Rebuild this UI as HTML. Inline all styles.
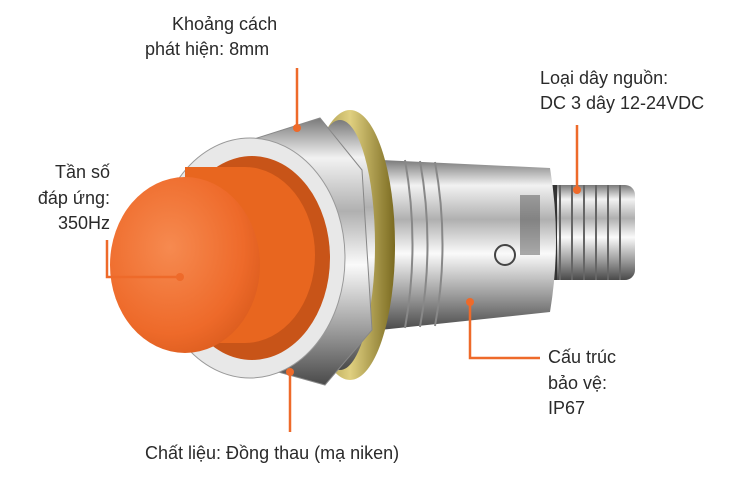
<!DOCTYPE html>
<html><head><meta charset="utf-8"><style>
html,body{margin:0;padding:0;background:#fff;}
#c{position:relative;width:750px;height:500px;overflow:hidden;background:#fff;font-family:"Liberation Sans","DejaVu Sans",sans-serif;color:#2a2a2a;font-size:18px;line-height:25.5px;}
.t{position:absolute;white-space:nowrap;}
</style></head><body><div id="c">
<svg width="750" height="500" style="position:absolute;left:0;top:0">
<defs>
<linearGradient id="met" x1="0" y1="0" x2="0" y2="1">
<stop offset="0" stop-color="#7a7a7a"/><stop offset="0.15" stop-color="#f2f2f2"/><stop offset="0.35" stop-color="#b0b0b0"/><stop offset="0.55" stop-color="#fafafa"/><stop offset="0.8" stop-color="#9a9a9a"/><stop offset="1" stop-color="#4a4a4a"/>
</linearGradient>
<linearGradient id="gold" x1="0" y1="0" x2="1" y2="0">
<stop offset="0" stop-color="#8a7a30"/><stop offset="0.5" stop-color="#e0d080"/><stop offset="1" stop-color="#7a6a20"/>
</linearGradient>
<radialGradient id="or" cx="0.4" cy="0.4" r="0.7">
<stop offset="0" stop-color="#f68a50"/><stop offset="0.7" stop-color="#ee6a2a"/><stop offset="1" stop-color="#d85a1c"/>
</radialGradient>
</defs>
<!-- connector thread -->
<rect x="540" y="185" width="95" height="95" rx="10" fill="url(#met)"/>
<g stroke="#666" stroke-width="2">
<line x1="560" y1="185" x2="560" y2="280"/><line x1="572" y1="185" x2="572" y2="280"/><line x1="584" y1="185" x2="584" y2="280"/><line x1="596" y1="185" x2="596" y2="280"/><line x1="608" y1="185" x2="608" y2="280"/><line x1="620" y1="185" x2="620" y2="280"/>
</g>
<rect x="545" y="185" width="12" height="95" fill="#333"/>
<!-- body -->
<path d="M380 160 L550 168 Q562 240 550 312 L380 330 Z" fill="url(#met)"/>
<g stroke="#888" stroke-width="2" fill="none">
<path d="M405 160 Q420 245 405 328"/><path d="M420 161 Q435 245 420 327"/><path d="M435 162 Q450 245 435 326"/>
</g>
<circle cx="505" cy="255" r="10" fill="none" stroke="#444" stroke-width="2"/>
<rect x="520" y="195" width="20" height="60" fill="#555" opacity="0.5"/>
<!-- gold ring -->
<ellipse cx="350" cy="245" rx="45" ry="135" fill="url(#gold)"/>
<ellipse cx="340" cy="245" rx="35" ry="125" fill="url(#met)"/>
<!-- nut -->
<path d="M235 145 L320 118 L362 170 L372 330 L325 385 L235 360 Z" fill="url(#met)" stroke="#888"/>
<!-- front ring -->
<ellipse cx="250" cy="258" rx="95" ry="120" fill="#e8e8e8" stroke="#999"/>
<ellipse cx="252" cy="258" rx="78" ry="102" fill="#c85418"/>
<!-- cap cylinder -->
<ellipse cx="245" cy="255" rx="70" ry="88" fill="#e8661f"/>
<rect x="185" y="167" width="60" height="176" fill="#e8661f"/>
<ellipse cx="185" cy="265" rx="75" ry="88" fill="url(#or)"/>
<!-- leader lines -->
<g stroke="#ee6a2a" stroke-width="2.5" fill="none">
<line x1="297" y1="68" x2="297" y2="128"/>
<line x1="577" y1="125" x2="577" y2="190"/>
<polyline points="107,240 107,277 180,277"/>
<polyline points="470,302 470,358 540,358"/>
<line x1="290" y1="372" x2="290" y2="432"/>
</g>
<g fill="#ee6a2a">
<circle cx="297" cy="128" r="4"/><circle cx="577" cy="190" r="4"/><circle cx="180" cy="277" r="4"/><circle cx="470" cy="302" r="4"/><circle cx="290" cy="372" r="4"/>
</g>
</svg>
<div class="t" style="left:172px;top:12px">Khoảng cách</div>
<div class="t" style="left:145px;top:37px">phát hiện: 8mm</div>
<div class="t" style="left:540px;top:66px">Loại dây nguồn:</div>
<div class="t" style="left:540px;top:91px">DC 3 dây 12-24VDC</div>
<div class="t" style="right:640px;top:160px;text-align:right">Tần số<br>đáp ứng:<br>350Hz</div>
<div class="t" style="left:548px;top:345px">Cấu trúc<br>bảo vệ:<br>IP67</div>
<div class="t" style="left:145px;top:441px">Chất liệu: Đồng thau (mạ niken)</div>
</div></body></html>
